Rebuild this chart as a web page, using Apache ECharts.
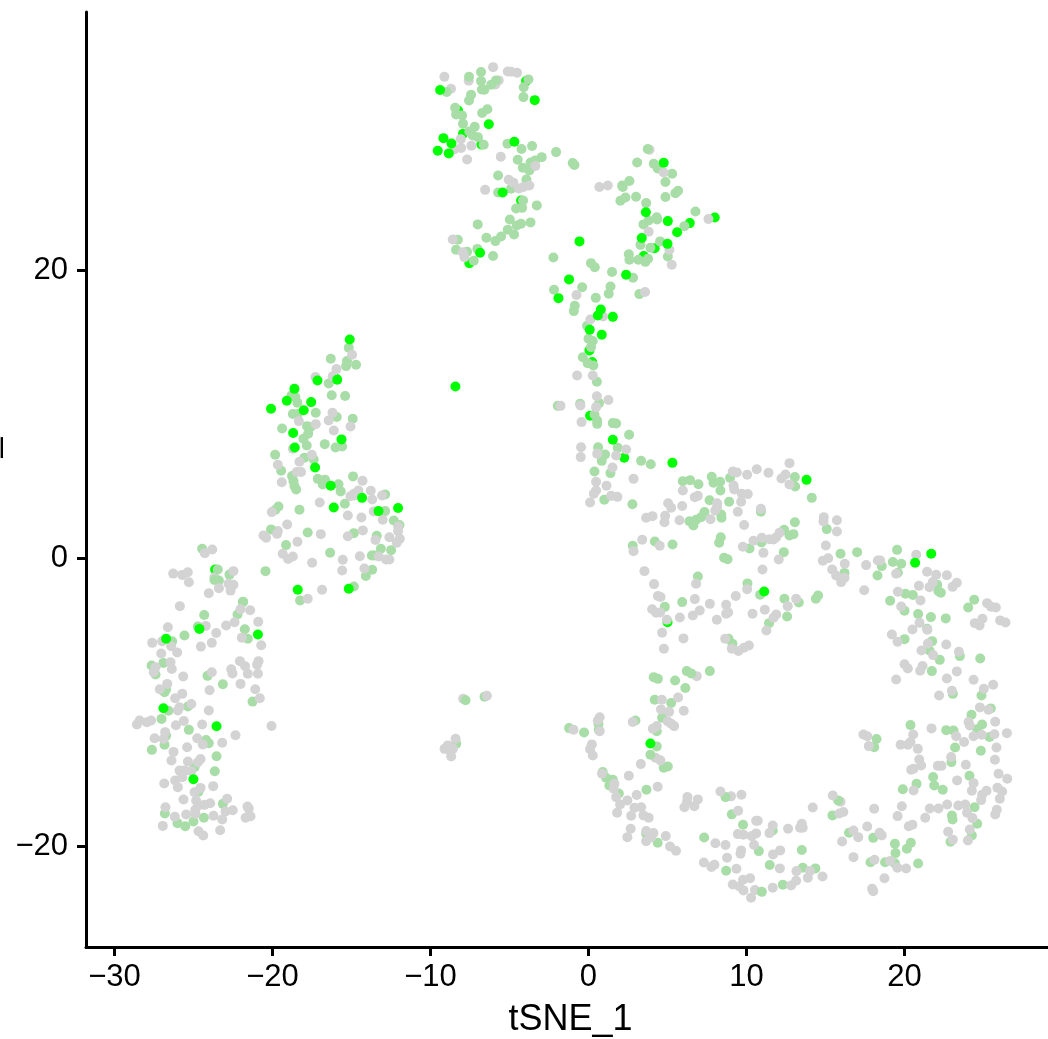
<!DOCTYPE html>
<html><head><meta charset="utf-8">
<script src="https://cdn.jsdelivr.net/npm/echarts@6/dist/echarts.min.js"></script>
<style>html,body{margin:0;padding:0;background:#fff}#c{width:1048px;height:1039px}</style>
</head><body><div id="c"></div>
<script>
const xTicks=[-30,-20,-10,0,10,20];
const yTicks=[-20,0,20];
const xName='tSNE_1', yName='tSNE_2';
const brightUnder=[[-3.95,33.15],[-8.25,31.11],[-7.94,29.49],[-6.78,28.75],[-4.27,24.86],[3.5,21],[-7.54,20.51],[0.06,14.45],[0.23,13.64],[0.1,9.91],[2.26,7],[5,-4.42],[-23.63,-0.77],[-15.97,12.48],[7.99,23.68],[6.41,23.29],[4.19,21.55]];
const grayUnder=[[-7.58,33.17],[-5.68,33.2],[-5.89,32.92],[-8.7,32.62],[3.86,28.38],[-8.06,28.5],[0.92,16.8],[-14.85,4.5],[-19.66,1.9],[-23.67,-1.3],[-7.93,-9.74],[6.85,-8.17],[4.24,-13.84],[9.02,-16.52],[15.95,-16.89],[10.54,-23.03]];
const green=[[-7.56,33.45],[-6.8,33.78],[-6.8,33.15],[-5.85,33.2],[-6.16,32.9],[-6.75,32.57],[-6.59,32.55],[-3.8,33.27],[-4.1,32.73],[-4.12,32.04],[-8.97,32.39],[-7.43,32.2],[-7.56,31.81],[-8.44,31.3],[-8.38,30.84],[-8,30.77],[-6.4,31.2],[-6.73,30.93],[-7.94,30.19],[-7.2,29.98],[-7.54,29.66],[-7.32,29.38],[-7,29.26],[-6.63,28.73],[-5.13,28.8],[-4.24,28.43],[-3.57,28.64],[-4.48,27.69],[-2.96,27.87],[-3.38,27.64],[-3.67,27.5],[-4.16,27.13],[-3.74,26.95],[-2.05,28.22],[-1,27.46],[-0.89,27.32],[-5.72,26.6],[-3.93,26.32],[-4.9,25.67],[-5.72,25.42],[-4.14,24.86],[-3.27,24.52],[-4.58,24.31],[-4.2,24.35],[-4.98,23.54],[-3.67,23.34],[-4.27,23.24],[-4.54,23.13],[-5.11,22.83],[-4.71,22.5],[-5.53,22.36],[-5.89,22.04],[-6.46,22.27],[-7.01,23.2],[-8.27,22.13],[-8.38,21.44],[-7.68,21.3],[-7.03,21.5],[-7.26,20.67],[-6.04,21],[-2.22,20.9],
[3.75,28.43],[3.08,27.5],[4.13,27.41],[4.38,27.09],[5.29,26.72],[4.87,26.14],[2.59,26.21],[2.13,25.9],[2.17,25.8],[4.87,25.1],[5.5,25.37],[5.67,25.54],[3.01,25.12],[2.02,24.84],[2.34,25.07],[3.65,24.68],[6.77,24.1],[4.32,23.7],[4.34,23.54],[3.81,23.47],[3.48,23.2],[6.07,23.08],[4.53,22.02],[3.29,21.78],[3.92,21.58],[5.02,20.97],[2.55,21.13],[2.59,20.74],[3.16,20.74],[3.77,20.81],[3.6,20.6],[0.16,20.51],[0.4,20.23],[1.49,19.89],[2.82,19.49],[1.39,18.89],[1.28,18.38],[-0.4,18.84],[-2.18,18.66],[0.46,18.1],[3.22,18.36],[-0.87,17.55],[-0.93,17.18],[-0.09,16.16],[0,15.26],[0.27,15.1],[0.16,14.68],[-0.36,13.98],[0.31,13.4],[-0.05,13.56],
[-15.17,14.63],[-16.31,13.87],[-15.28,13.71],[-15.34,13.36],[-14.71,13.45],[-16.44,12.16],[-16.25,11.34],[-15.4,11.28],[-18.8,11.32],[-18.55,11.21],[-18.42,10.81],[-18.71,10.03],[-18.4,10.03],[-17.26,10.12],[-15.93,9.82],[-14.92,9.7],[-19.39,9.03],[-17.81,9.19],[-17.6,9.12],[-17.74,8.66],[-18.04,8.31],[-17.83,7.85],[-16.69,7.94],[-16.01,7.71],[-15.59,7.78],[-19.83,7.2],[-17.98,7],[-17.39,6.88],[-19.45,6.09],[-18.76,5.72],[-17.13,5.53],[-16.67,5.47],[-18.67,5.37],[-16.82,5.14],[-14.9,5.7],[-15.82,5.16],[-15.68,4.66],[-18.61,5.03],[-18.5,4.79],[-12.87,4.45],[-19.62,3.61],[-19.81,3.38],[-18.29,3.38],[-15.42,3.8],[-12.87,3.29],[-12.32,2.64],[-11.96,2.32],[-20.09,2.02],[-17.77,1.81],[-14.85,1.76],[-13.4,1.58],[-19.14,0.93],[-13.14,0.67],[-12.49,0.58],[-16.35,0.4],[-13.71,0.21],[-13.55,0.21],[-13.69,-0.78],[-14.09,-1.22],[-20.44,-0.88],[-14.85,-1.94],[-18.25,-2.91],[-21.88,-3.03],
[-24.45,0.67],[-23.46,-0.77],[-23.67,-1.49],[-23.39,-1.53],[-22.72,-1.12],[-21.85,-3],[-22.21,-3.89],[-24.32,-3.92],[-24.72,-4.73],[-21.75,-4.91],[-21.56,-5.58],[-25.57,-5.35],[-26.35,-5.75],[-27.65,-7.43],[-26.9,-7.25],[-27.4,-8.06],[-24.11,-8.15],[-23.14,-8.73],[-26.73,-9.1],[-26.83,-9.29],[-21.26,-9.94],[-25.35,-10.28],[-26.58,-10.58],[-27.02,-11.14],[-25.29,-11.9],[-26.73,-12.3],[-26.83,-12.94],[-27.63,-13.29],[-24.2,-12.6],[-24.03,-12.83],[-23.54,-13.73],[-23.65,-14.77],[-24.93,-14.5],[-24.68,-16.19],[-23.14,-17.04],[-26.81,-17.71],[-24.34,-18.01],[-26.01,-18.38],[-25.52,-18.59],[-25,-18.27],
[0.53,12.27],[0.67,10.79],[-1.94,10.6],[-0.53,10.74],[0.38,10],[0.55,9.58],[0.55,9.35],[1.54,9.4],[1.75,9.38],[2.57,8.59],[0.61,7.73],[1.85,7.69],[1.05,7.22],[0.84,6.78],[3.33,6.78],[3.94,6.55],[0.38,6.04],[1.39,5.93],[1,4.08],[2.78,3.77],[5.97,5.37],[6.43,5.44],[6.96,5.16],[7.8,5.67],[7.91,5.26],[8.33,5.33],[8.96,5.6],[8.35,4.72],[13.06,5.65],[13.08,5],[14.13,4.21],[7.66,4.05],[8.9,3.94],[7.34,3.22],[7.13,2.87],[6.81,2.69],[6.39,2.59],[6.64,2.29],[8.4,3.06],[8.42,2.83],[10.91,3.24],[13.06,2.52],[12.38,1.99],[12.72,1.6],[12.97,1.69],[15.08,2.04],[8.37,1.48],[8.27,1.09],[4.2,1.18],[5.32,0.97],[2.8,0.88],[10.95,1.11],[10.19,0.69],[12.36,0.44],[15.95,0.33],[8.58,0.05],[8.8,-0.05],[16.2,-1],[6.92,-1.25],[10.06,-1.73],[10.86,-2.52],[5.93,-3.03],[4.83,-3.36],[12.4,-2.8],[13.31,-3.06],[14.53,-2.57],[14.39,-2.8],[12.57,-4.03],[11.43,-4.49],[8.86,-5.58],[9.11,-5.92],[7.68,-7.82],[6.22,-7.82],[6.5,-7.98],[4.13,-8.24],[4.39,-8.36],[5.48,-8.47],
[17,0.44],[19.53,0.6],[18.56,-0.53],[18.29,-1.18],[19.26,-0.25],[19.79,-0.37],[19.58,-0.99],[20.06,-2.45],[20.53,-2.54],[19.09,-2.94],[22.07,-1.83],[22.3,-2.38],[22.15,-2.27],[24.41,-2.87],[24.03,-3.4],[20,-3.63],[20.86,-3.86],[21.67,-4.07],[22.61,-4.16],[21.43,-4.88],[20,-5.6],[21.75,-5.74],[21.58,-6.39],[22.23,-7.04],[23.5,-6.78],[24.79,-6.94],[21.73,-7.82],[23.06,-9.4],[24.87,-9.51],[25.46,-10.41],[24.24,-10.85],[24.91,-11.53],[24.6,-11.85],[25.38,-12.4],[20.38,-11.57],[22.64,-11.92],[23.1,-11.94],[18.23,-12.54],[18.08,-13.1],[23.2,-13.12],[24.83,-13.35],[22.97,-14.14],[24.11,-15.09],[21.81,-15.18],[20.76,-15.65],[21.88,-15.76],[22.42,-16.06],[19.89,-16.02],[23,-17.85],[23.04,-18.12],[24.6,-18.42],[24.26,-19.23],[22.91,-19.67],[18.02,-19.4],[19.39,-19.81],[20.4,-19.74],[20.15,-20.16],[19.43,-20.46],[17.85,-21.09],[18.77,-21.09],[19.39,-21.16],[20.86,-21.18],[24.43,-17.27],
[6.13,-9],[5.23,-10.04],[4.19,-9.81],[2.97,-11.25],[4.66,-11.06],[-1.23,-11.78],[-0.28,-12.08],[0.63,-11.48],[0.65,-11.89],[4.32,-11.99],[4.32,-13.05],[3.92,-13.63],[4.76,-14.53],[5.02,-14.44],[0.9,-14.83],[1.11,-15.23],[1.54,-15.37],[1.32,-15.76],[1.92,-16.32],[3.67,-16.06],[8.67,-16.57],[9.07,-17.77],[9.78,-18.49],[11.66,-18.89],[15.8,-16.8],[15.44,-17.84],[16.49,-19.05],[7.32,-19.37],[4.38,-19.74],[3.65,-19.12],[10.78,-20.32],[13.5,-20.25],[11.47,-21.29],[8.71,-21.69],[13.56,-21.48],[14.36,-21.52],[12.3,-22.66],[10.97,-23.15],
[-7.78,-9.84],[-6.58,-9.6],[-8.37,-12.87]];
const gray=[[-9.12,33.45],[-6.04,34.12],[-5.11,33.82],[-4.9,33.8],[-4.52,33.73],[-8.08,29.12],[-7.41,28.66],[-7.68,27.71],[-8.5,28.4],[-5.55,27.9],[-3.36,27.25],[-5.05,26.3],[-4.75,26.1],[-3.74,25.9],[-4.12,25.8],[-4.41,25.7],[-6.54,25.6],[-8.59,22.15],[-7.85,20.93],[-7.96,21.27],[0.69,25.8],[1.22,25.9],[4.76,26.8],[7.59,23.57],[3.81,22.69],[5.12,21.44],[5.27,20.4],[3.58,18.5],[-0.76,18.3],[0.12,16.6],
[-14.96,14.15],[-15.95,13.15],[-17.28,12.6],[-16.18,12.66],[-16.2,10.12],[-16.44,9.59],[-18.33,9.54],[-17.26,9.33],[-16.12,8.89],[-15.06,9.17],[-18.71,7.62],[-17.51,7.2],[-18.29,6.72],[-19.66,6.51],[-18.46,6],[-18.19,6],[-19.41,5.3],[-14.3,5.4],[-13.78,4.7],[-14.56,4.72],[-15.06,4.33],[-14.81,4.38],[-13.69,4.1],[-13.06,4.38],[-17.01,3.89],[-20.04,3.22],[-13.59,3.27],[-15.23,2.99],[-14.37,2.85],[-13.02,2.69],[-19.07,2.36],[-12.05,2.22],[-12.05,1.9],[-14.28,1.95],[-19.71,1.71],[-20.57,1.6],[-20.4,1.44],[-16.94,1.69],[-15.23,1.55],[-12.6,1.48],[-11.94,1.37],[-13.48,1.28],[-12.13,1.09],[-18.42,1.16],[-19.35,0.33],[-18.71,0.14],[-19.01,-0.04],[-14.47,0.16],[-13.27,0.14],[-12.81,-0.07],[-12.6,-0.07],[-17.49,-0.3],[-15.55,-0.09],[-15.59,-0.83],[-14.18,-0.69],[-16.86,-2.17],[-17.77,-2.8],
[-23.81,0.62],[-24.28,0.37],[-26.28,-1.05],[-25.71,-1.14],[-25.36,-0.95],[-25.29,-1.65],[-22.47,-0.88],[-22.78,-1.76],[-22.47,-1.83],[-23.39,-2.06],[-22.65,-2.23],[-24.03,-2.41],[-25.86,-3.31],[-22.02,-3.52],[-21.41,-3.59],[-20.9,-4.4],[-26.62,-4.77],[-22.4,-4.43],[-22.93,-4.66],[-24.22,-4.68],[-23.56,-5.17],[-21.94,-5.51],[-20.71,-6.02],[-23.84,-5.86],[-24.53,-6.12],[-27.61,-5.86],[-26.98,-5.75],[-26.41,-6.09],[-26.03,-6.53],[-27.04,-6.6],[-26.45,-7.2],[-26.37,-7.67],[-27.4,-7.55],[-27.51,-7.9],[-25.65,-8.2],[-22.06,-7.13],[-21.73,-7.48],[-20.88,-7.13],[-20.97,-7.37],[-22.61,-7.69],[-22.53,-7.99],[-21.56,-8.01],[-20.92,-8.01],[-23.84,-7.9],[-22.02,-8.71],[-26.66,-8.71],[-27.13,-9.08],[-23.98,-9.15],[-21.09,-9.08],[-25.71,-9.4],[-26.16,-9.7],[-20.8,-9.7],[-25.14,-10.1],[-25.88,-10.33],[-25.99,-10.56],[-24.03,-10.56],[-28.41,-11.25],[-28.58,-11.53],[-27.95,-11.37],[-27.68,-11.25],[-26.11,-11.58],[-25.61,-11.28],[-24.45,-11.53],[-20.06,-11.63],[-26.79,-12.06],[-27.46,-12.48],[-26.89,-12.53],[-22.34,-12.27],[-24.76,-12.48],[-24.41,-12.92],[-23.18,-12.8],[-25.4,-13.11],[-26.26,-13.43],[-26.39,-14.03],[-25.35,-14.1],[-24.55,-13.92],[-24.72,-14.15],[-25.88,-14.73],[-25.57,-14.73],[-25.14,-14.77],[-25.71,-15.19],[-26.16,-15.42],[-26.85,-15.63],[-25.99,-15.88],[-24.55,-15.93],[-23.75,-15.81],[-24.93,-16.23],[-25.63,-16.74],[-22.87,-16.69],[-24.83,-16.81],[-23.94,-17],[-24.3,-17.11],[-24.72,-17.16],[-24.89,-17.46],[-26.77,-17.27],[-21.58,-17.23],[-21.5,-17.37],[-22.97,-17.57],[-22.51,-17.48],[-25.46,-17.78],[-24.87,-17.74],[-23.73,-17.87],[-26.18,-17.94],[-21.39,-17.9],[-21.7,-18.01],[-23.18,-18.13],[-26.94,-18.57],[-24.68,-18.94],[-24.38,-19.24],[-23.31,-18.87],
[-0.72,12.71],[0.27,12.71],[0.53,11.27],[1.26,11],[-1.77,10.6],[-0.51,10.63],[0.48,10.51],[-0.44,9.47],[-0.47,7.73],[-0.49,7.04],[2.38,7.57],[0.55,7.27],[1.75,7.15],[1.52,6.32],[2.85,5.53],[0.48,5.33],[1.14,5.05],[0.48,4.72],[0.34,4.49],[0.1,3.89],[1.43,4.35],[1.83,4.28],[12.72,6.62],[10.65,6.2],[11.39,5.95],[10.04,5.81],[9.13,6.04],[9.39,5.97],[12.47,5.83],[12.21,5.56],[12.72,5.14],[5.97,4.72],[9.18,5.07],[9.22,4.79],[10.08,4.47],[9.7,4.49],[9.66,3.94],[6.92,4.35],[6.73,4.26],[5.04,3.84],[5.23,3.52],[5.93,3.64],[8.14,3.84],[8.14,3.57],[8.02,3.33],[9.45,3.24],[10.91,3.45],[3.65,2.83],[4.05,2.94],[4.85,2.96],[4.81,2.52],[5.76,2.66],[7.72,2.73],[9.85,2.32],[14.89,2.87],[14.87,2.57],[15.72,2.66],[15.72,1.88],[12.09,1.78],[11.88,1.48],[11.71,1.32],[11.45,1.34],[10.97,1.44],[10.44,1.23],[9.77,0.81],[3.4,1.3],[4.51,0.88],[2.85,0.51],[11.07,0.39],[12.04,-0.07],[15.02,0.9],[14.83,-0.16],[15.17,0.02],[16.22,-0.37],[15.42,-0.76],[15.67,-1.18],[15.99,-1.64],[16.2,-1.34],[11.01,-0.76],[3.54,-0.88],[4.15,-1.78],[6.81,-1.76],[10.04,-2.13],[9.32,-2.61],[4.39,-2.61],[4.56,-2.68],[6.73,-2.82],[13.14,-2.8],[12.61,-3.31],[7.68,-3.15],[8.71,-3.22],[4.03,-3.52],[4.28,-3.77],[4.53,-3.75],[7.04,-3.61],[6.6,-3.96],[5.78,-4.1],[4.96,-4.26],[8.84,-3.75],[8.71,-3.84],[11.16,-3.56],[10.38,-3.84],[11.88,-3.89],[11.71,-4.12],[8.12,-4.26],[11.26,-5],[4.66,-5.16],[6.01,-5.55],[4.77,-6.27],[8.65,-5.58],[9.07,-6.27],[9.49,-6.43],[9.83,-6.2],[10.15,-6.04],
[17.57,-0.46],[18.31,-0.14],[18.46,-0.14],[19.47,-1.06],[17.45,-2.2],[20.74,0.26],[21.43,-0.92],[22,-1.13],[22.68,-1.16],[20.91,-1.9],[21.58,-1.99],[21.79,-1.64],[23.31,-1.69],[23.04,-1.97],[19.58,-2.31],[21.01,-2.91],[19.79,-3.33],[25.23,-3.1],[25.48,-3.35],[25.78,-3.4],[24.93,-4.19],[24.45,-4.49],[24.75,-4.65],[26.05,-4.3],[26.39,-4.44],[20.95,-4.47],[20.5,-4.93],[21.45,-4.95],[19.2,-5.28],[19.56,-5.78],[21.48,-5.9],[22.64,-5.97],[23.44,-6.48],[21.07,-6.39],[21.81,-6.71],[20,-7.34],[20.21,-7.64],[21.14,-7.47],[20.99,-7.8],[19.47,-8.4],[22.68,-8.33],[23.31,-7.84],[24.37,-8.42],[22.19,-9.51],[23,-9.19],[25.02,-9.05],[25.61,-8.77],[24.77,-10.34],[25.31,-10.51],[24.05,-11.36],[24.13,-11.6],[25.74,-11.34],[21.71,-11.8],[24.37,-12.34],[24.89,-12.24],[25.69,-12.2],[26.48,-12.13],[23.27,-12.34],[23.77,-12.75],[17.4,-12.22],[17.64,-12.34],[17.74,-13.03],[20.55,-12.22],[20.38,-12.75],[20.21,-12.94],[19.75,-12.94],[20.84,-13.22],[25.82,-13.12],[20.93,-13.96],[21.05,-14.37],[20.57,-14.6],[20.42,-14.67],[22.95,-13.79],[22.11,-14.4],[22.34,-14.4],[23.88,-14.33],[25.72,-13.98],[25.95,-14.95],[26.5,-15.3],[23.33,-15.41],[24.37,-15.6],[24.26,-16.13],[20.57,-16.11],[25.88,-15.92],[26.18,-16.18],[25.19,-16.13],[24.91,-16.41],[24.85,-16.78],[26.03,-16.69],[18.08,-17.38],[19.83,-17.2],[22.7,-17.08],[21.6,-17.36],[22.15,-17.36],[23.4,-17.15],[23.84,-17.08],[19.56,-17.89],[21.31,-18],[23.96,-17.66],[25.84,-17.45],[25.74,-17.78],[24.3,-18.03],[20.5,-18.49],[20.27,-18.59],[17.64,-18.61],[22.76,-18.98],[24.13,-18.82],[18.42,-19.05],[18.56,-19.23],[17.07,-19.35],[24.01,-19.58],[23.06,-19.53],[18.1,-20.92],[19.09,-21],[19.55,-21.48],[20.1,-21.53],[18.73,-22.2],[17.95,-22.94],[18.02,-23.1],
[4.64,-9.81],[5.67,-9.65],[4.59,-10.48],[5.1,-10.65],[6.03,-10.58],[0.71,-11.02],[0.59,-11.25],[2.8,-11.36],[5.02,-11.32],[5.23,-11.48],[5.42,-11.64],[4.32,-11.64],[4.07,-11.83],[-0.95,-11.89],[0.71,-11.99],[0.21,-12.91],[0.1,-13.24],[0.27,-13.68],[4.55,-14.02],[3.31,-14.28],[2.55,-15.09],[0.86,-14.95],[1.64,-15.64],[1.6,-15.99],[4.38,-15.85],[3.05,-16.43],[1.75,-16.57],[2.46,-16.8],[2,-17.08],[2.91,-17.31],[3.33,-17.27],[1.81,-17.66],[2.7,-17.87],[3.48,-17.84],[3.81,-18],[6.26,-16.57],[6.92,-16.73],[6.24,-16.87],[6.07,-17.27],[6.7,-17.2],[8.35,-16.18],[9.68,-16.41],[9.47,-17.52],[14.19,-17.29],[15.46,-16.46],[15.88,-17.71],[16.13,-17.61],[10.71,-18.21],[10.61,-18.21],[11.66,-18.54],[12.63,-18.77],[13.5,-18.42],[13.39,-18.7],[13.56,-18.7],[11.45,-19.07],[9.45,-19.14],[9.81,-19.19],[10.61,-19.09],[10.33,-19.28],[2.67,-18.77],[2.46,-19.35],[3.65,-18.93],[4.11,-19.07],[3.96,-19.35],[3.65,-19.63],[4.89,-19.28],[5.16,-20],[5.54,-20.3],[8.03,-19.77],[8.67,-19.9],[10.48,-19.9],[9.66,-20.27],[9.62,-20.51],[8.77,-20.78],[12.13,-20.27],[11.68,-20.55],[7.3,-21.11],[7.97,-21.27],[7.78,-21.43],[9.36,-21.55],[12.11,-21.52],[13.16,-21.71],[14.02,-21.71],[13.88,-22.17],[14.81,-22.08],[10.23,-22.2],[9.78,-22.31],[13.14,-22.38],[12.82,-22.71],[9.13,-22.64],[9.55,-22.77],[9.81,-23.05],[11.66,-22.87],[10.29,-23.56],[16.05,-19.65],[16.77,-18.89],[16.77,-20.74],
[-6.43,-9.53],[-8.41,-12.52],[-9.11,-13.22],[-8.9,-12.98],[-8.79,-13.33],[-8.58,-13.22],[-8.69,-13.75]];
const brightTop=[[-9.39,32.53],[-3.4,31.83],[-6.31,30.16],[-9.18,29.19],[-8.67,28.82],[-9.54,28.31],[-8.84,28.13],[-4.69,28.94],[-5.43,25.42],[4.76,27.48],[3.63,24.05],[5.02,23.43],[5.61,22.66],[3.37,22.25],[5,21.85],[-0.57,22.02],[-6.86,21.23],[2.38,19.7],[-1.23,19.38],[-1.9,18.08],[0.78,17.29],[0.59,16.88],[1.54,16.78],[0.08,15.88],[0.84,15.54],[-8.42,11.94],
[-15.11,15.21],[-15.9,12.42],[-17.15,12.36],[-18.61,11.78],[-19.09,10.95],[-17.55,10.86],[-20.09,10.4],[-18.02,10.3],[-18.69,8.71],[-15.63,8.27],[-18.59,7.71],[-17.3,6.32],[-16.31,5.05],[-16.12,3.54],[-14.33,4.21],[-13.29,3.29],[-12.05,3.5],[-18.4,-2.17],[-15.17,-2.1],
[-26.73,-5.58],[-24.62,-4.89],[-20.92,-5.28],[-26.9,-10.4],[-23.54,-11.65],[-25,-15.33],
[1.54,8.24],[5.31,6.64],[13.8,5.46],[11.12,-2.29],[21.69,0.33],[20.67,-0.3],[3.92,-12.85]];
const colors={bright:'#00FF00',green:'#A8DDA8',gray:'#D3D3D3'};
function pts(name,data,color){return {name,type:'scatter',data,symbol:'circle',symbolSize:10,itemStyle:{color,opacity:1},silent:true,animation:false};}
const fmt=v=>String(v).replace('-','\u2212');
const axisCommon={
  axisLine:{show:true,onZero:false,lineStyle:{color:'#000',width:3}},
  splitLine:{show:false},
  nameLocation:'middle'
};
const chart=echarts.init(document.getElementById('c'),null,{renderer:'canvas'});
chart.setOption({
  animation:false,backgroundColor:'#fff',
  grid:{left:86,right:0,top:12,bottom:92,containLabel:false,outerBoundsMode:'none'},
  xAxis:Object.assign({},axisCommon,{type:'value',min:-31.8,max:29.08,name:xName,nameGap:55,
    nameTextStyle:{color:'#000',fontFamily:'Liberation Sans',fontSize:36,padding:[0,0,0,7]},
    axisTick:{show:true,length:9,customValues:xTicks,lineStyle:{color:'#000',width:3}},
    axisLabel:{customValues:xTicks,formatter:fmt,color:'#000',fontFamily:'Liberation Sans',fontSize:31,margin:15}}),
  yAxis:Object.assign({},axisCommon,{type:'value',min:-26.98,max:37.95,name:yName,nameGap:79,nameRotate:90,
    nameTextStyle:{color:'#000',fontFamily:'Liberation Sans',fontSize:36},
    axisTick:{show:true,length:9,customValues:yTicks,lineStyle:{color:'#000',width:3}},
    axisLabel:{customValues:yTicks,formatter:fmt,color:'#000',fontFamily:'Liberation Sans',fontSize:31,margin:18}}),
  series:[pts('brightUnder',brightUnder,colors.bright),pts('grayUnder',grayUnder,colors.gray),pts('green',green,colors.green),pts('gray',gray,colors.gray),pts('brightTop',brightTop,colors.bright)]
});
</script></body></html>
